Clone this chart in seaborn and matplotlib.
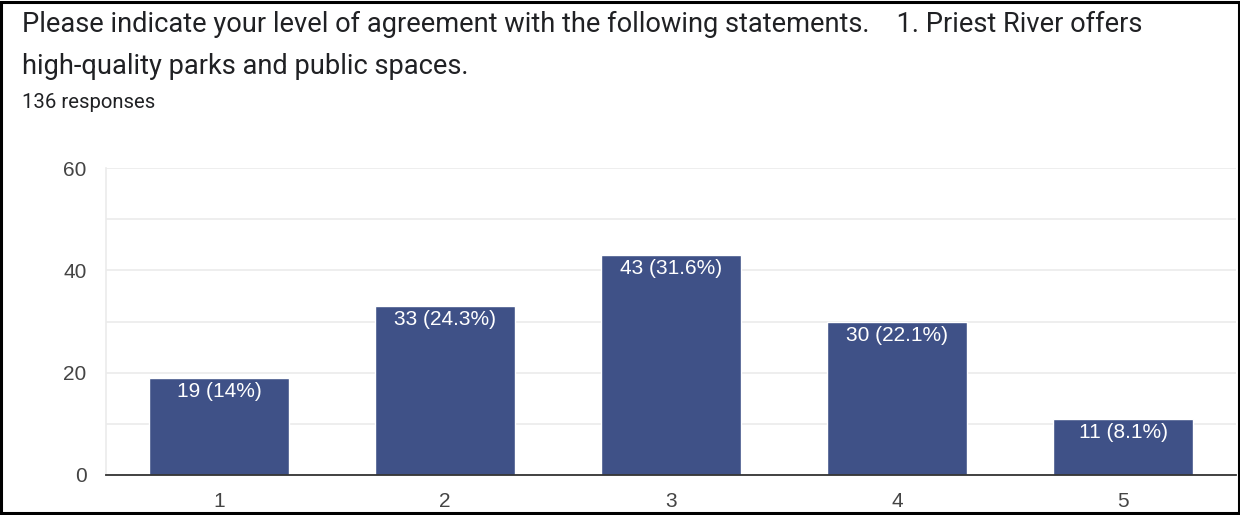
import matplotlib
matplotlib.use("Agg")
import matplotlib.pyplot as plt
import matplotlib.patches as mpatches
import seaborn as sns
import pandas as pd

# Survey responses for statement 1 (1 = strongly disagree ... 5 = strongly agree)
categories = ["1", "2", "3", "4", "5"]
counts = [19, 33, 43, 30, 11]
percent_labels = ["14%", "24.3%", "31.6%", "22.1%", "8.1%"]
title_lines = [
    "Please indicate your level of agreement with the following statements.    1. Priest River offers",
    "high-quality parks and public spaces.",
]
subtitle = "136 responses"
y_ticks = [0, 20, 40, 60]

sns.set_theme(style="white")
plt.rcParams["font.family"] = ["Roboto", "DejaVu Sans"]
chart_font = ["Liberation Sans", "DejaVu Sans"]

df = pd.DataFrame({"rating": categories, "count": counts})

fig = plt.figure(figsize=(12.4, 5.15), dpi=100)
ax = fig.add_axes([0.0855, 0.0777, 0.9115, 0.596])

sns.barplot(data=df, x="rating", y="count", color="#3F5187", width=0.62,
            saturation=1, ax=ax, zorder=3)

ax.set_ylim(0, 60)
ax.set_yticks(y_ticks)
ax.set_yticks([10, 30, 50], minor=True)
ax.grid(axis="y", which="both", color="#EBEBEB", linewidth=1.2, zorder=0)
ax.set_xlabel("")
ax.set_ylabel("")

for side in ["top", "right"]:
    ax.spines[side].set_visible(False)
ax.spines["left"].set_color("#EBEBEB")
ax.spines["left"].set_linewidth(1.2)
ax.spines["bottom"].set_color("#333333")
ax.spines["bottom"].set_linewidth(1.3)
ax.spines["bottom"].set_zorder(4)

ax.tick_params(axis="both", which="both", length=0, labelsize=15, labelcolor="#444444")
ax.tick_params(axis="y", pad=14)
ax.tick_params(axis="x", pad=12)
for lbl in ax.get_xticklabels() + ax.get_yticklabels():
    lbl.set_fontfamily(chart_font)

for bar, n, pct in zip(ax.containers[0], counts, percent_labels):
    ax.annotate(f"{n} ({pct})", xy=(bar.get_x() + bar.get_width() / 2, bar.get_height()),
                xytext=(0, -3), textcoords="offset points", ha="center", va="top",
                color="white", fontsize=15, family=chart_font, zorder=5)

fig.text(22 / 1240, 1 - 24 / 515, title_lines[0], fontsize=19.6, color="#202124",
         ha="left", va="center")
fig.text(22 / 1240, 1 - 67 / 515, title_lines[1], fontsize=19.6, color="#202124",
         ha="left", va="center")
fig.text(22 / 1240, 1 - 102 / 515, subtitle, fontsize=14.6, color="#202124",
         ha="left", va="center")

fig.patches.append(mpatches.Rectangle((0.0012, 0.003), 0.9976, 0.994, transform=fig.transFigure,
                                      fill=False, edgecolor="black", linewidth=2.2))

fig.savefig("out.png", dpi=100)
